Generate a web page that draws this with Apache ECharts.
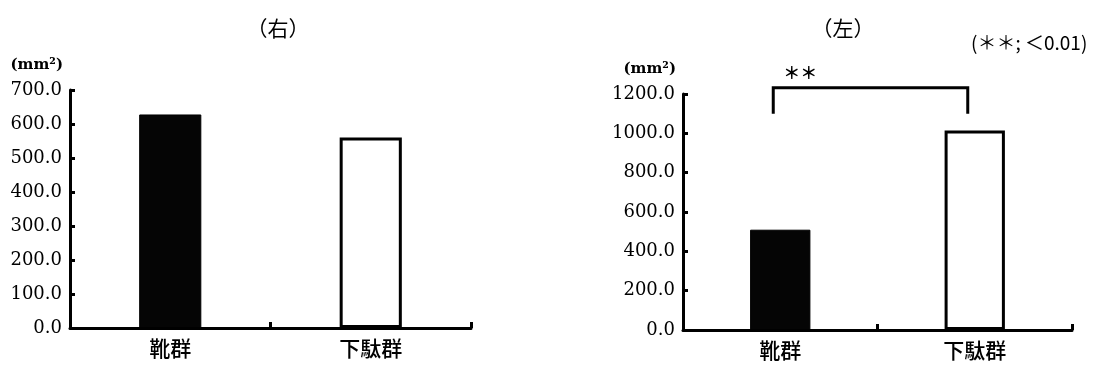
<!DOCTYPE html>
<html>
<head>
<meta charset="utf-8">
<script src="https://cdn.jsdelivr.net/npm/echarts@6/dist/echarts.min.js"></script>
<style>
  html, body { margin: 0; padding: 0; background: #fff; }
  #chart { width: 1098px; height: 367px; }
</style>
</head>
<body>
<div id="chart"></div>
<script>
// Groups and measured areas (mm²)
const categories = ['靴群', '下駄群'];
const rightFoot = [628, 560];
const leftFoot = [510, 1015];
const rightTicks = { min: 0, max: 700, interval: 100 };
const leftTicks = { min: 0, max: 1200, interval: 200 };
// significance bracket between the two groups of the left foot: [from, to, legBottom, top]
const sigBracket = [[0, 1, 1100, 1232]];
const sigMark = '＊＊';
const sigNote = '(＊＊; ＜0.01)';

const chart = echarts.init(document.getElementById('chart'), null, { renderer: 'canvas' });

const serif = '"DejaVu Serif", "Liberation Serif", serif';
const cjk = '"Noto Sans CJK JP", sans-serif';

function xAxisFor(idx) {
  return {
    type: 'category', gridIndex: idx, data: categories,
    axisLine: { lineStyle: { color: '#000', width: 3 } },
    axisTick: { show: true, inside: true, length: 6, lineStyle: { color: '#000', width: 3 }, alignWithLabel: false },
    axisLabel: { color: '#000', fontSize: 21, fontFamily: cjk, fontWeight: 500, margin: 10 },
    splitLine: { show: false }
  };
}
function yAxisFor(idx, t) {
  return {
    type: 'value', gridIndex: idx, min: t.min, max: t.max, interval: t.interval,
    name: '(mm²)', nameLocation: 'end', nameGap: 17,
    nameTextStyle: { color: '#000', fontSize: 15, fontFamily: serif, fontWeight: 'bold', align: 'right', padding: [0, 7, 0, 0] },
    axisLine: { show: true, lineStyle: { color: '#000', width: 3 } },
    axisTick: { show: true, inside: true, length: 5, lineStyle: { color: '#000', width: 3 } },
    axisLabel: { color: '#000', fontSize: 18, fontFamily: serif, fontWeight: 'normal', margin: 8, formatter: v => v.toFixed(1) },
    splitLine: { show: false }
  };
}
function barsFor(idx, values) {
  return {
    type: 'bar', xAxisIndex: idx, yAxisIndex: idx, barWidth: '31%',
    data: values.map((v, i) => ({
      value: v,
      itemStyle: i === 0
        ? { color: '#050505', borderColor: '#000', borderWidth: 1 }
        : { color: '#fff', borderColor: '#000', borderWidth: 3 }
    })),
    silent: true
  };
}

chart.setOption({
  animation: false,
  backgroundColor: '#fff',
  title: [
    { text: '（右）', left: 273, top: 13, textAlign: 'center', textStyle: { color: '#000', fontSize: 21, fontFamily: cjk, fontWeight: 'normal' } },
    { text: '（左）', left: 838, top: 13, textAlign: 'center', textStyle: { color: '#000', fontSize: 21, fontFamily: cjk, fontWeight: 'normal' } },
    { text: sigNote, left: 966, top: 28, textStyle: { color: '#000', fontSize: 19, fontFamily: cjk, fontWeight: 'normal' } }
  ],
  grid: [
    { left: 70, top: 90, width: 401, height: 238, containLabel: false },
    { left: 683, top: 94, width: 389, height: 236, containLabel: false }
  ],
  xAxis: [xAxisFor(0), xAxisFor(1)],
  yAxis: [yAxisFor(0, rightTicks), yAxisFor(1, leftTicks)],
  series: [
    barsFor(0, rightFoot),
    barsFor(1, leftFoot),
    {
      type: 'custom', xAxisIndex: 1, yAxisIndex: 1, clip: false, silent: true,
      data: sigBracket,
      renderItem: function (params, api) {
        const a = api.coord([api.value(0), api.value(2)]);
        const b = api.coord([api.value(1), api.value(2)]);
        const topY = api.coord([api.value(0), api.value(3)])[1];
        const shift = -7;
        const x0 = a[0] + shift, x1 = b[0] + shift;
        return {
          type: 'group',
          children: [
            {
              type: 'polyline',
              shape: { points: [[x0, a[1]], [x0, topY], [x1, topY], [x1, b[1]]] },
              style: { stroke: '#000', lineWidth: 3, fill: null }
            },
            {
              type: 'text',
              style: {
                x: x0 + 27, y: topY - 15, text: sigMark, align: 'center', verticalAlign: 'middle',
                fill: '#000', font: 'bold 17px ' + cjk
              }
            }
          ]
        };
      }
    }
  ]
});
</script>
</body>
</html>
